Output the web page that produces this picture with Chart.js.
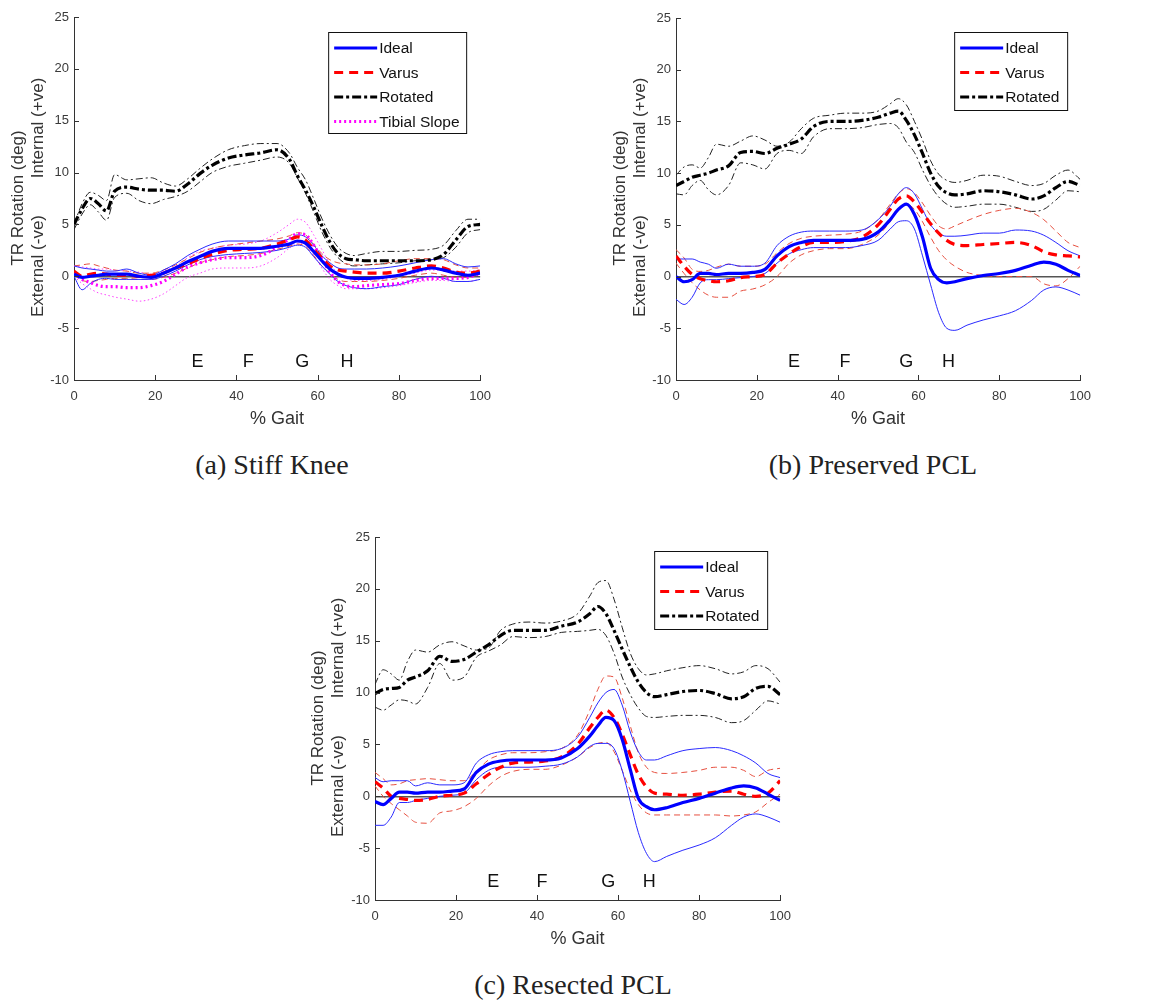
<!DOCTYPE html>
<html><head><meta charset="utf-8">
<script src="https://cdn.jsdelivr.net/npm/chart.js@4.4.1/dist/chart.umd.min.js"></script>
<style>
body{margin:0;background:#fff;}
#wrap{position:relative;width:1162px;height:1003px;overflow:hidden;background:#fff;font-family:'Liberation Sans',Arial,sans-serif;}
canvas{position:absolute;}
.ylab{position:absolute;white-space:nowrap;font-size:17px;color:#333;transform:translate(-50%,-50%) rotate(-90deg);}
.cap{position:absolute;white-space:nowrap;font-family:'Liberation Serif',serif;font-size:28px;color:#222;transform:translate(-50%,-50%);}
</style></head>
<body><div id="wrap">
<canvas id="ca" width="500" height="432" style="left:0px;top:0px;width:500px;height:432px"></canvas>
<canvas id="cb" width="500" height="432" style="left:600px;top:0px;width:500px;height:432px"></canvas>
<canvas id="cc" width="500" height="432" style="left:300px;top:520px;width:500px;height:432px"></canvas>

<div class="ylab" style="left:18px;top:198px">TR Rotation (deg)</div>
<div class="ylab" style="left:38px;top:128px">Internal (+ve)</div>
<div class="ylab" style="left:38px;top:266px">External (-ve)</div>
<div class="ylab" style="left:620px;top:198px">TR Rotation (deg)</div>
<div class="ylab" style="left:640px;top:128px">Internal (+ve)</div>
<div class="ylab" style="left:640px;top:266px">External (-ve)</div>
<div class="ylab" style="left:318px;top:718px">TR Rotation (deg)</div>
<div class="ylab" style="left:338px;top:648px">Internal (+ve)</div>
<div class="ylab" style="left:338px;top:786px">External (-ve)</div>

<div class="cap" style="left:272px;top:465px">(a) Stiff Knee</div>
<div class="cap" style="left:873px;top:465px">(b) Preserved PCL</div>
<div class="cap" style="left:573px;top:985px">(c) Resected PCL</div>
</div>
<script>
// ---------- data ----------
const gait = [0,2,4,6,8,10,13,16,19,22,25,28,31,34,38,42,46,50,53,55,57,59,61,63,65,67,69,72,76,80,84,88,91,94,97,100];
const yTicks = [-10,-5,0,5,10,15,20,25];
const xTicks = [0,20,40,60,80,100];
const phases = ['E','F','G','H'];
const aPhaseX = [30.4,42.9,56.2,67.2];
const bPhaseX = [29.2,41.8,57.0,67.4];
const cPhaseX = [29.2,41.2,57.6,67.7];
const phaseY = -8.3;

// (a) Stiff Knee
const aIdeal   = [0.2,-0.1,0.0,0.1,0.2,0.2,0.2,0.0,-0.1,0.3,0.8,1.4,1.9,2.4,2.7,2.7,2.7,2.9,3.1,3.4,3.2,2.4,1.5,0.7,0.2,-0.1,-0.2,-0.2,-0.1,0.1,0.5,0.8,0.6,0.3,0.1,0.3];
const aIdealHi = [1.0,0.8,0.7,0.6,0.5,0.5,0.7,0.3,0.1,0.6,1.2,2.0,2.6,3.1,3.4,3.4,3.4,3.4,3.6,4.0,3.8,3.0,2.0,1.3,0.8,0.7,0.7,0.7,0.8,1.0,1.3,1.6,1.7,1.2,0.9,1.0];
const aIdealLo = [0.0,-1.3,-0.7,-0.3,-0.2,-0.3,-0.3,-0.3,-0.3,0.0,0.5,1.1,1.6,1.9,2.1,2.2,2.3,2.5,2.8,3.0,2.8,1.9,1.0,0.2,-0.5,-0.9,-1.1,-1.2,-1.0,-0.8,-0.3,0.0,-0.2,-0.5,-0.5,-0.3];
const aVarus   = [0.5,0.0,0.2,0.3,0.2,0.1,0.1,0.0,0.1,0.3,0.8,1.2,1.7,2.1,2.5,2.6,2.7,3.1,3.5,3.8,3.5,2.6,1.8,1.0,0.6,0.5,0.4,0.3,0.3,0.5,0.8,1.0,0.8,0.4,0.3,0.5];
const aVarusHi = [1.0,1.1,1.2,1.0,0.8,0.6,0.5,0.3,0.3,0.6,1.1,1.7,2.3,2.7,3.0,3.2,3.4,3.6,3.9,4.2,4.0,3.1,2.2,1.6,1.3,1.2,1.1,1.1,1.2,1.5,1.7,1.7,1.6,1.1,0.8,0.8];
const aVarusLo = [0.2,-0.4,-0.5,-0.4,-0.3,-0.2,-0.2,-0.3,-0.3,-0.1,0.3,0.8,1.3,1.6,1.9,2.0,2.2,2.6,2.9,3.1,2.9,2.0,1.0,0.3,-0.3,-0.5,-0.5,-0.5,-0.4,-0.2,0.1,0.3,0.1,-0.1,-0.1,0.2];
const aRot     = [5.0,6.5,7.5,7.0,6.3,8.2,8.6,8.4,8.3,8.3,8.2,8.9,9.9,10.7,11.4,11.7,11.9,12.2,11.3,9.7,8.3,6.7,4.9,3.3,2.2,1.7,1.6,1.5,1.5,1.5,1.5,1.6,2.1,3.5,4.8,5.0];
const aRotHi   = [5.0,7.0,8.1,7.8,7.3,9.8,9.3,9.4,9.5,9.0,8.7,9.4,10.4,11.3,12.2,12.6,12.8,12.8,11.9,10.5,9.3,7.5,5.6,4.0,2.8,2.2,2.0,2.2,2.4,2.4,2.5,2.6,3.0,4.4,5.5,5.5];
const aRotLo   = [4.5,6.0,6.9,6.2,5.4,7.6,8.0,7.3,7.0,7.4,7.7,8.2,9.1,10.0,10.6,10.9,11.2,11.5,10.9,9.5,8.0,6.2,4.3,2.8,1.8,1.2,1.0,1.1,1.2,1.3,1.5,1.6,1.8,2.8,4.2,4.5];
const aTib     = [0.3,-0.3,-0.6,-0.9,-1.0,-1.0,-1.1,-1.1,-0.9,-0.5,0.2,0.9,1.3,1.6,1.8,1.8,2.0,2.8,3.6,4.1,4.0,3.0,1.7,0.4,-0.5,-0.9,-1.0,-0.9,-0.8,-0.7,-0.4,-0.2,-0.2,-0.2,-0.1,0.3];
const aTibHi   = [1.0,0.9,0.8,0.7,0.7,0.6,0.5,0.4,0.2,0.5,1.0,1.8,2.4,2.7,3.0,3.1,3.4,4.2,5.0,5.5,5.2,4.0,2.6,1.2,0.3,-0.2,-0.4,-0.4,-0.3,0.0,0.3,0.6,0.6,0.5,0.5,0.6];
const aTibLo   = [0.0,-0.7,-1.2,-1.6,-1.8,-2.0,-2.2,-2.4,-2.2,-1.7,-0.9,-0.1,0.3,0.7,0.8,0.8,1.0,1.8,2.7,3.2,3.0,2.1,0.8,-0.3,-0.9,-1.2,-1.2,-1.2,-1.1,-0.9,-0.6,-0.4,-0.4,-0.5,-0.5,-0.3];

// (b) Preserved PCL
const bIdeal   = [0.0,-0.5,-0.3,0.3,0.3,0.2,0.3,0.3,0.4,0.7,2.0,2.9,3.3,3.5,3.5,3.5,3.6,4.3,5.5,6.5,7.0,6.0,3.8,0.8,-0.3,-0.6,-0.5,-0.2,0.1,0.3,0.6,1.1,1.4,1.2,0.6,0.1];
const bIdealHi = [1.7,1.7,1.7,1.4,1.2,0.8,1.2,1.0,1.0,1.3,3.0,3.9,4.3,4.4,4.4,4.4,4.5,5.5,6.8,8.0,8.6,8.0,6.5,5.0,4.2,3.9,3.9,4.0,4.2,4.2,4.5,4.4,4.0,3.3,2.5,2.0];
const bIdealLo = [-2.2,-2.7,-2.0,-0.6,-0.3,-0.3,-0.2,-0.1,0.0,0.3,1.3,2.2,2.6,2.8,2.8,2.8,3.0,3.5,4.6,5.3,5.4,4.6,2.0,-0.8,-3.5,-5.0,-5.2,-4.7,-4.2,-3.8,-3.3,-2.3,-1.3,-1.0,-1.3,-1.8];
const bVarus   = [2.0,1.0,0.2,-0.2,-0.4,-0.5,-0.4,-0.1,0.0,0.2,1.3,2.2,2.9,3.3,3.3,3.4,3.8,5.0,6.5,7.5,7.8,7.2,6.2,5.1,4.2,3.5,3.1,3.0,3.1,3.2,3.3,3.0,2.4,2.1,2.0,1.9];
const bVarusHi = [2.6,1.8,0.7,0.5,0.6,0.9,1.2,1.0,1.0,1.2,2.3,3.2,3.7,3.9,4.0,4.1,4.4,5.5,7.0,8.0,8.5,8.1,7.1,5.9,4.9,4.6,4.9,5.4,6.0,6.4,6.6,6.2,5.5,4.4,3.3,2.8];
const bVarusLo = [1.3,0.3,-0.6,-1.3,-1.8,-2.0,-2.0,-1.4,-1.2,-0.8,0.0,1.3,2.1,2.5,2.7,2.7,3.1,4.0,5.3,6.5,7.0,6.5,5.3,3.8,2.5,1.6,1.0,0.4,0.1,0.0,0.0,0.0,-0.7,-0.9,-0.2,1.0];
const bRot     = [8.8,9.2,9.6,9.8,10.0,10.3,10.7,12.0,12.1,11.9,12.4,12.8,13.3,14.5,15.0,15.0,15.1,15.4,15.8,16.0,15.1,13.7,11.9,10.0,8.7,8.1,7.9,8.0,8.3,8.2,7.9,7.5,7.8,8.6,9.2,8.8];
const bRotHi   = [9.8,10.6,10.8,10.5,11.5,12.8,12.6,13.1,13.6,13.2,12.6,13.0,14.3,15.3,15.6,15.8,15.8,16.0,16.7,17.2,16.6,15.0,13.2,11.2,9.9,9.3,9.1,9.3,9.8,9.7,9.2,8.8,9.0,9.8,10.3,9.4];
const bRotLo   = [8.0,7.9,8.8,9.3,8.4,7.9,8.8,11.0,10.8,10.4,11.9,12.2,11.9,13.5,14.3,14.3,14.4,14.7,14.8,14.4,13.0,12.0,10.3,8.8,7.7,7.0,6.7,6.8,7.0,7.0,6.7,6.3,6.5,7.4,8.3,8.2];

// (c) Resected PCL
const cIdeal   = [-0.5,-0.8,-0.2,0.4,0.4,0.3,0.4,0.4,0.5,0.7,2.3,3.1,3.4,3.5,3.5,3.5,3.7,4.6,5.8,6.8,7.6,7.3,5.5,2.6,-0.2,-1.0,-1.3,-1.1,-0.6,-0.2,0.3,0.8,1.0,0.8,0.2,-0.4];
const cIdealHi = [1.8,1.4,1.5,1.5,1.5,1.0,1.3,1.1,1.1,1.3,3.2,4.0,4.3,4.4,4.4,4.4,4.6,5.7,7.6,9.0,10.0,10.3,8.8,6.2,4.3,3.5,3.5,3.9,4.4,4.6,4.7,4.4,3.9,3.2,2.2,1.8];
const cIdealLo = [-2.8,-2.8,-2.0,-0.6,-0.6,-0.4,-0.2,0.0,0.1,0.3,1.6,2.5,2.8,2.8,2.8,2.9,3.1,3.8,4.8,5.1,5.1,4.6,2.5,-0.5,-3.5,-5.5,-6.3,-5.8,-5.2,-4.7,-4.0,-2.8,-2.0,-1.7,-2.0,-2.5];
const cVarus   = [1.4,0.8,0.0,-0.2,-0.3,-0.4,-0.3,0.0,0.1,0.3,1.2,2.1,2.8,3.2,3.3,3.4,3.8,5.0,6.6,7.6,8.3,7.6,6.0,4.0,2.1,0.9,0.3,0.2,0.1,0.2,0.4,0.5,0.2,0.0,0.3,1.5];
const cVarusHi = [2.3,1.7,1.1,1.2,1.5,1.6,1.7,1.6,1.5,1.5,2.4,3.5,4.0,4.2,4.2,4.3,4.6,5.9,8.3,10.3,11.6,11.5,9.5,6.8,4.2,2.8,2.3,2.2,2.3,2.5,2.8,2.8,2.5,1.9,2.5,2.7];
const cVarusLo = [1.0,0.0,-0.7,-1.3,-1.9,-2.5,-2.6,-1.6,-1.4,-1.0,-0.2,1.0,1.9,2.4,2.6,2.6,3.0,3.8,4.7,5.1,5.2,4.3,2.5,0.6,-0.8,-1.6,-1.8,-1.8,-1.8,-1.8,-1.8,-1.9,-1.8,-1.5,-0.6,0.2];
const cRot     = [9.9,10.3,10.4,10.5,11.2,11.5,12.1,13.5,13.0,13.2,13.9,14.6,15.5,16.0,16.0,16.0,16.4,16.8,17.6,18.3,17.6,16.0,14.2,12.5,11.0,10.0,9.6,9.8,10.1,10.2,9.9,9.4,9.6,10.4,10.6,9.8];
const cRotHi   = [10.8,12.2,11.8,11.2,13.0,14.1,13.9,14.6,14.9,14.5,14.1,14.3,16.0,16.6,16.8,16.7,16.9,17.6,19.3,20.6,20.8,19.0,16.3,13.8,12.3,11.7,11.8,12.1,12.4,12.6,12.3,11.8,12.0,12.6,12.3,11.0];
const cRotLo   = [8.6,8.3,8.8,9.3,9.2,8.9,10.5,12.8,11.2,11.5,13.4,14.0,14.6,15.4,15.3,15.4,15.8,15.9,16.0,16.1,15.5,13.8,11.5,9.8,8.5,7.7,7.6,7.7,7.8,7.8,7.6,7.1,7.3,8.3,9.2,8.9];

// ---------- styles ----------
const styles = {
  'Ideal':        {mean:{c:'#0000ff',w:3.2,d:[]},        band:{c:'#2a2aff',w:1,d:[]}},
  'Varus':        {mean:{c:'#ff0000',w:3.2,d:[9,6]},     band:{c:'#e65040',w:1,d:[6,4]}},
  'Rotated':      {mean:{c:'#000000',w:3.2,d:[9,3,3,3]}, band:{c:'#222222',w:1,d:[7,3,2,3]}},
  'Tibial Slope': {mean:{c:'#ff00ff',w:3.2,d:[2,3]},     band:{c:'#ff44ff',w:1,d:[1.5,2.5]}}
};

function pts(arr){ return gait.map((g,i)=>({x:g,y:arr[i]})); }
function ds(label, arr, st, hidden){
  return {label:label, data:pts(arr), borderColor:st.c, borderWidth:st.w, borderDash:st.d,
    pointRadius:0, fill:false, cubicInterpolationMode:'monotone', _legend:!hidden};
}
function buildDatasets(series){
  const out = [];
  series.forEach(s=>{ out.push(ds(s.name, s.mean, styles[s.name].mean, false)); });
  series.forEach(s=>{
    out.push(ds(s.name+' upper', s.hi, styles[s.name].band, true));
    out.push(ds(s.name+' lower', s.lo, styles[s.name].band, true));
  });
  return out;
}

const legendPlugin = {
  id:'boxLegend',
  afterDraw(chart, args, opts){
    const ctx = chart.ctx, a = chart.chartArea;
    const bx = a.right - opts.right - opts.w, by = a.top + opts.top;
    ctx.save();
    ctx.fillStyle = '#fff'; ctx.fillRect(bx,by,opts.w,opts.h);
    ctx.strokeStyle = '#111'; ctx.lineWidth = 1; ctx.setLineDash([]);
    ctx.strokeRect(bx+0.5,by+0.5,opts.w,opts.h);
    opts.items.forEach((name,i)=>{
      const st = styles[name].mean;
      const y = by + 16 + i*24.5;
      ctx.beginPath(); ctx.strokeStyle = st.c; ctx.lineWidth = st.w; ctx.setLineDash(st.d);
      ctx.moveTo(bx+6,y); ctx.lineTo(bx+49,y); ctx.stroke();
      ctx.setLineDash([]);
      ctx.fillStyle = '#111'; ctx.font = '15.5px "Liberation Sans", Arial, sans-serif';
      ctx.textAlign = 'left'; ctx.textBaseline = 'middle';
      ctx.fillText(name, bx+51, y+1);
    });
    ctx.restore();
  }
};
const phasePlugin = {
  id:'phaseLabels',
  afterDatasetsDraw(chart, args, opts){
    const ctx = chart.ctx, xs = chart.scales.x, ys = chart.scales.y;
    ctx.save();
    ctx.fillStyle = '#111'; ctx.font = '18px "Liberation Sans", Arial, sans-serif';
    ctx.textAlign = 'center'; ctx.textBaseline = 'middle';
    phases.forEach((p,i)=>ctx.fillText(p, xs.getPixelForValue(opts.xs[i]), ys.getPixelForValue(phaseY)));
    ctx.restore();
  }
};
const inTicksPlugin = {
  id:'inTicks',
  afterDraw(chart){
    const ctx = chart.ctx, a = chart.chartArea, xs = chart.scales.x, ys = chart.scales.y;
    ctx.save(); ctx.strokeStyle = '#333'; ctx.lineWidth = 1; ctx.setLineDash([]);
    ctx.beginPath();
    yTicks.forEach(v=>{ const y = Math.round(ys.getPixelForValue(v))+0.5; ctx.moveTo(a.left,y); ctx.lineTo(a.left+5,y); });
    xTicks.forEach(v=>{ const x = Math.round(xs.getPixelForValue(v))+0.5; ctx.moveTo(x,a.bottom); ctx.lineTo(x,a.bottom-5); });
    ctx.stroke(); ctx.restore();
  }
};

function makeChart(id, series, yW, pad, legendOpts, phaseXs){
  return new Chart(document.getElementById(id), {
    type:'line',
    data:{datasets: buildDatasets(series)},
    plugins:[legendPlugin, phasePlugin, inTicksPlugin],
    options:{
      responsive:false, animation:false, devicePixelRatio:1,
      layout:{padding:pad},
      plugins:{legend:{display:false}, tooltip:{enabled:false},
        boxLegend:legendOpts, phaseLabels:{xs:phaseXs}},
      scales:{
        x:{type:'linear', min:0, max:100,
          afterBuildTicks:s=>{ s.ticks = xTicks.map(v=>({value:v})); },
          afterFit:s=>{ s.height = 52; },
          ticks:{color:'#3a3a3a', font:{size:13, family:'"Liberation Sans", Arial'}, padding:9, maxRotation:0},
          grid:{drawTicks:false, color:'rgba(0,0,0,0)'},
          border:{color:'#333', width:1},
          title:{display:true, text:'% Gait', color:'#333', font:{size:18, family:'"Liberation Sans", Arial'}, padding:{top:0,bottom:2}}
        },
        y:{type:'linear', min:-10, max:25,
          afterBuildTicks:s=>{ s.ticks = yTicks.map(v=>({value:v})); },
          afterFit:s=>{ s.width = yW; },
          ticks:{color:'#3a3a3a', font:{size:13, family:'"Liberation Sans", Arial'}, padding:5},
          grid:{drawTicks:false,
            color:c=> (c.tick && c.tick.value===0) ? '#555' : 'rgba(0,0,0,0)',
            lineWidth:c=> (c.tick && c.tick.value===0) ? 1.5 : 1},
          border:{color:'#333', width:1}
        }
      }
    }
  });
}

makeChart('ca', [
  {name:'Ideal', mean:aIdeal, hi:aIdealHi, lo:aIdealLo},
  {name:'Varus', mean:aVarus, hi:aVarusHi, lo:aVarusLo},
  {name:'Rotated', mean:aRot, hi:aRotHi, lo:aRotLo},
  {name:'Tibial Slope', mean:aTib, hi:aTibHi, lo:aTibLo}
], 74, {left:0,right:11,top:17,bottom:0},
  {items:['Ideal','Varus','Rotated','Tibial Slope'], right:14, top:15, w:138, h:101}, aPhaseX);

makeChart('cb', [
  {name:'Ideal', mean:bIdeal, hi:bIdealHi, lo:bIdealLo},
  {name:'Varus', mean:bVarus, hi:bVarusHi, lo:bVarusLo},
  {name:'Rotated', mean:bRot, hi:bRotHi, lo:bRotLo}
], 76, {left:0,right:10,top:18,bottom:0},
  {items:['Ideal','Varus','Rotated'], right:13, top:14, w:113, h:78}, bPhaseX);

makeChart('cc', [
  {name:'Ideal', mean:cIdeal, hi:cIdealHi, lo:cIdealLo},
  {name:'Varus', mean:cVarus, hi:cVarusHi, lo:cVarusLo},
  {name:'Rotated', mean:cRot, hi:cRotHi, lo:cRotLo}
], 75, {left:0,right:10,top:17,bottom:0},
  {items:['Ideal','Varus','Rotated'], right:13, top:14, w:113, h:78}, cPhaseX);
</script>
</body></html>
